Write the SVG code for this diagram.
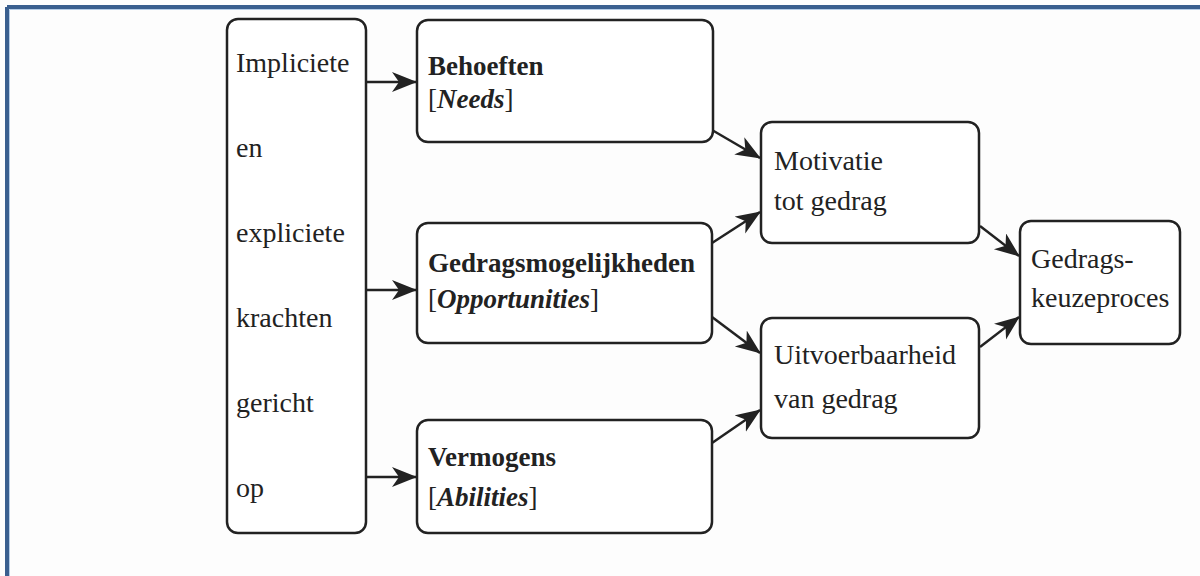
<svg xmlns="http://www.w3.org/2000/svg" width="1200" height="576" viewBox="0 0 1200 576">
<style>
.box{fill:#ffffff;stroke:#222222;stroke-width:2.5}
.t{font-family:"Liberation Serif","Times New Roman",serif;font-size:28px;fill:#222222}
.b{font-family:"Liberation Serif","Times New Roman",serif;font-size:27px;font-weight:bold;fill:#222222}
.i{font-style:italic;font-weight:bold}
.n{font-weight:normal;font-style:normal}
.c{stroke:#222222;stroke-width:2.5;fill:none;marker-end:url(#ah)}
</style>
<defs>
<marker id="ah" markerWidth="26" markerHeight="22" refX="24" refY="10" orient="auto" markerUnits="userSpaceOnUse">
<path d="M0,0 L25,10 L0,20 L7,10 Z" fill="#222222"/>
</marker>
</defs>
<rect x="0" y="0" width="1200" height="576" fill="#fdfdfd"/>
<g id="frame">
<line x1="7" y1="7" x2="1200" y2="7" stroke="#3a5f8f" stroke-width="4"/>
<line x1="7" y1="7" x2="7" y2="576" stroke="#3a5f8f" stroke-width="4"/>
<line x1="9.5" y1="9.5" x2="1200" y2="9.5" stroke="#b5cce6" stroke-width="1"/>
<line x1="9.5" y1="9.5" x2="9.5" y2="576" stroke="#b5cce6" stroke-width="1"/>
</g>
<g id="connectors">
<line class="c" x1="366" y1="82" x2="416" y2="82"/>
<line class="c" x1="366" y1="290" x2="416" y2="290"/>
<line class="c" x1="366" y1="477" x2="416" y2="477"/>
<line class="c" x1="712" y1="130" x2="760" y2="158"/>
<line class="c" x1="712" y1="243" x2="760" y2="212"/>
<line class="c" x1="712" y1="317" x2="760" y2="353"/>
<line class="c" x1="712" y1="443" x2="760" y2="410"/>
<line class="c" x1="980" y1="226" x2="1019" y2="256"/>
<line class="c" x1="980" y1="347" x2="1019" y2="317"/>
</g>
<g id="forces">
<rect class="box" x="227" y="19" width="139" height="514" rx="11"/>
<text class="t" x="236" y="72">Impliciete</text>
<text class="t" x="236" y="157">en</text>
<text class="t" x="236" y="242">expliciete</text>
<text class="t" x="236" y="327">krachten</text>
<text class="t" x="236" y="412">gericht</text>
<text class="t" x="236" y="497">op</text>
</g>
<g id="needs">
<rect class="box" x="417" y="20" width="296" height="122" rx="11"/>
<text class="b" x="428" y="75">Behoeften</text>
<text class="b" x="428" y="108"><tspan class="n">[</tspan><tspan class="i">Needs</tspan><tspan class="n">]</tspan></text>
</g>
<g id="opportunities">
<rect class="box" x="417" y="223" width="295" height="120" rx="11"/>
<text class="b" x="428" y="272">Gedragsmogelijkheden</text>
<text class="b" x="428" y="308"><tspan class="n">[</tspan><tspan class="i">Opportunities</tspan><tspan class="n">]</tspan></text>
</g>
<g id="abilities">
<rect class="box" x="417" y="420" width="295" height="113" rx="11"/>
<text class="b" x="428" y="466">Vermogens</text>
<text class="b" x="428" y="506"><tspan class="n">[</tspan><tspan class="i">Abilities</tspan><tspan class="n">]</tspan></text>
</g>
<g id="motivation">
<rect class="box" x="761" y="122" width="218" height="121" rx="11"/>
<text class="t" x="774" y="170">Motivatie</text>
<text class="t" x="774" y="210">tot gedrag</text>
</g>
<g id="feasibility">
<rect class="box" x="761" y="318" width="218" height="120" rx="11"/>
<text class="t" x="774" y="364">Uitvoerbaarheid</text>
<text class="t" x="774" y="408">van gedrag</text>
</g>
<g id="choice">
<rect class="box" x="1020" y="221" width="160" height="123" rx="11"/>
<text class="t" x="1031" y="268">Gedrags-</text>
<text class="t" x="1031" y="307">keuzeproces</text>
</g>
</svg>
